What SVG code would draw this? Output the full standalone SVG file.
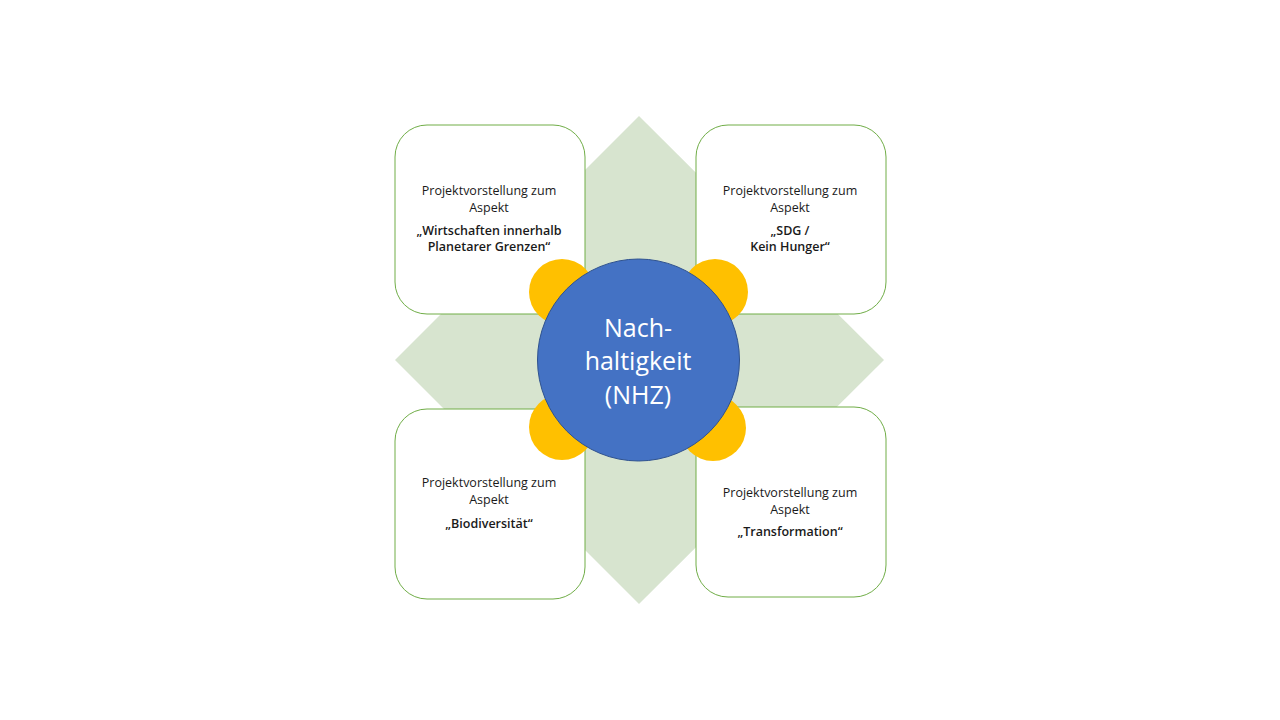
<svg xmlns="http://www.w3.org/2000/svg" width="1280" height="720" viewBox="0 0 1280 720">
<style>
.box{fill:#ffffff;stroke:#70ad47;stroke-width:1}
.pet{fill:#ffc000}
.t{font-family:"Open Sans","Liberation Sans",sans-serif;font-size:12.5px;fill:#1a1a1a;text-anchor:middle}
.b{font-weight:600}
.c{font-family:"Open Sans","Liberation Sans",sans-serif;font-size:25px;fill:#ffffff;text-anchor:middle}
</style>
<rect width="1280" height="720" fill="#ffffff"/>
<g id="diamond"><polygon points="639,116 884,360 639,604 395,360" fill="#d7e4cf"/></g>
<g id="box-tl">
<rect class="box" x="395" y="125" width="190" height="189" rx="32"/>
<text class="t" x="489" y="195">Projektvorstellung zum</text>
<text class="t" x="489" y="212">Aspekt</text>
<text class="t b" x="489" y="235">„Wirtschaften innerhalb</text>
<text class="t b" x="489" y="251">Planetarer Grenzen“</text>
</g>
<g id="box-tr">
<rect class="box" x="696" y="125" width="190" height="189" rx="32"/>
<text class="t" x="790" y="195">Projektvorstellung zum</text>
<text class="t" x="790" y="212">Aspekt</text>
<text class="t b" x="790" y="235">„SDG /</text>
<text class="t b" x="790" y="251">Kein Hunger“</text>
</g>
<g id="box-bl">
<rect class="box" x="395" y="409" width="190" height="190" rx="32"/>
<text class="t" x="489" y="487">Projektvorstellung zum</text>
<text class="t" x="489" y="504">Aspekt</text>
<text class="t b" x="489" y="528">„Biodiversität“</text>
</g>
<g id="box-br">
<rect class="box" x="696" y="407" width="190" height="190" rx="32"/>
<text class="t" x="790" y="497">Projektvorstellung zum</text>
<text class="t" x="790" y="514">Aspekt</text>
<text class="t b" x="790" y="536">„Transformation“</text>
</g>
<g id="petals">
<circle class="pet" cx="562" cy="292" r="33"/>
<circle class="pet" cx="715" cy="292" r="33"/>
<circle class="pet" cx="562" cy="427" r="33"/>
<circle class="pet" cx="713" cy="428" r="33"/>
</g>
<g id="center">
<circle cx="638.5" cy="360" r="101" fill="#4472c4" stroke="#2f528f" stroke-width="1"/>
<text class="c" x="638" y="337">Nach-</text>
<text class="c" x="638" y="370">haltigkeit</text>
<text class="c" x="638" y="404">(NHZ)</text>
</g>
</svg>
